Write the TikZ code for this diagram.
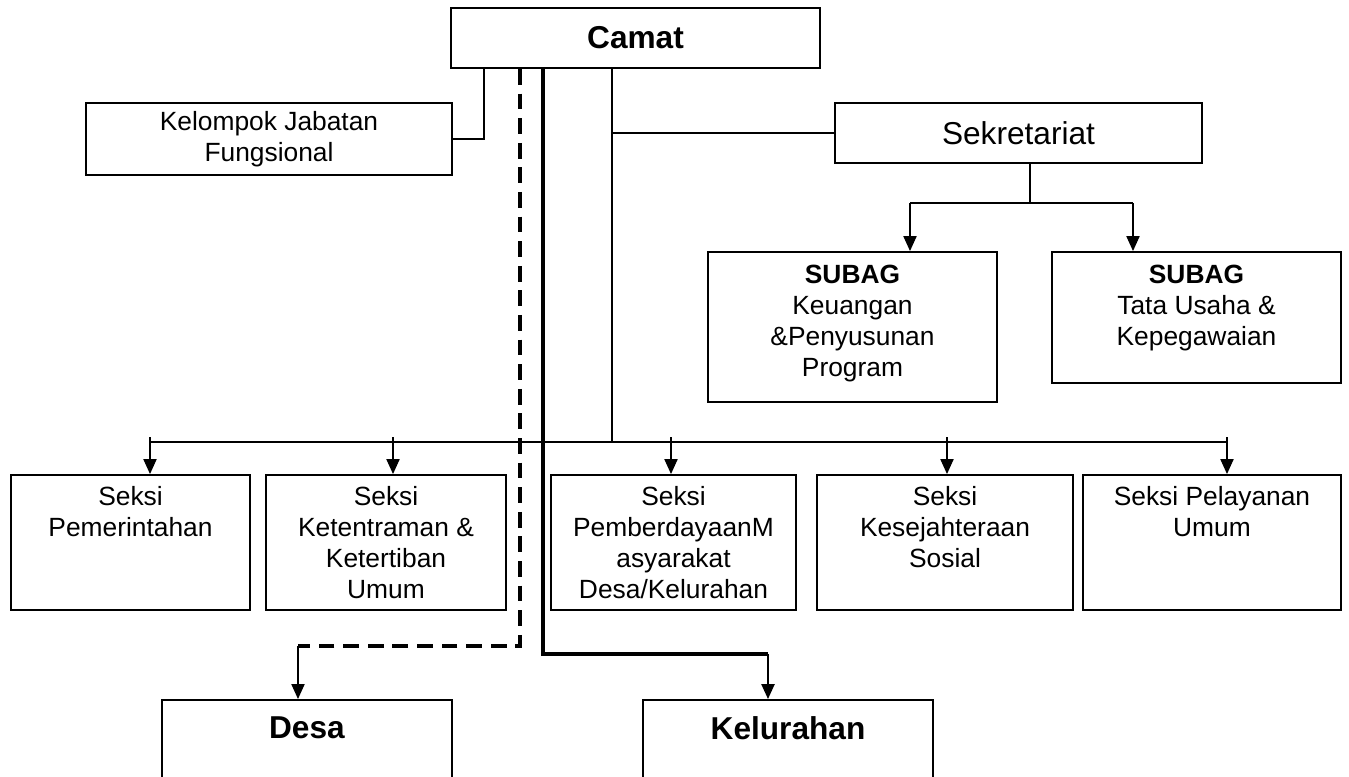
\documentclass[tikz,border=0pt]{standalone}
\usepackage{fontspec}
\setmainfont{Liberation Sans}
\usepackage{tikz}
\usetikzlibrary{arrows.meta, positioning}

\tikzset{
  box/.style={draw, line width=1.1pt, inner sep=0pt},
  txt/.style={align=center, inner sep=0pt, font=\fontsize{15}{17.6}\selectfont},
  big/.style={font=\fontsize{18}{21}\selectfont},
  link/.style={line width=0.75pt},
  down/.style={line width=0.75pt, -{Stealth[inset=0pt, length=8.5pt, width=7.5pt]}},
  dashlink/.style={line width=2pt, dash pattern=on 9pt off 5pt},
  thicklink/.style={line width=2.2pt},
}

\begin{document}
\begin{tikzpicture}
  \useasboundingbox (0,0) rectangle (26.98,-15.52);
  \clip (0,0) rectangle (26.98,-15.52);

  % top
  \node[box, big, minimum width=7.38cm, minimum height=1.2cm] (camat) at (12.71,-0.76) {\textbf{Camat}};
  \node[box, txt, minimum width=7.32cm, minimum height=1.44cm] (kjf) at (5.38,-2.78) {Kelompok Jabatan\\Fungsional};
  \node[box, big, minimum width=7.34cm, minimum height=1.2cm] (sekr) at (20.37,-2.66) {Sekretariat};

  % subag
  \node[box, minimum width=5.78cm, minimum height=3cm] (keu) at (17.05,-6.54) {};
  \node[txt, below=8pt of keu.north] (keut) {\textbf{SUBAG}\\Keuangan\\\&Penyusunan\\Program};
  \node[box, minimum width=5.78cm, minimum height=2.62cm] (tu) at (23.93,-6.35) {};
  \node[txt, below=8pt of tu.north] (tut) {\textbf{SUBAG}\\Tata Usaha \&\\Kepegawaian};

  % seksi
  \node[box, minimum width=4.78cm, minimum height=2.7cm] (pem) at (2.61,-10.85) {};
  \node[txt, below=7pt of pem.north] (pemt) {Seksi\\Pemerintahan};
  \node[box, minimum width=4.8cm, minimum height=2.7cm] (tram) at (7.72,-10.85) {};
  \node[txt, below=7pt of tram.north] (tramt) {Seksi\\Ketentraman \&\\Ketertiban\\Umum};
  \node[box, minimum width=4.9cm, minimum height=2.7cm] (pmd) at (13.47,-10.85) {};
  \node[txt, below=7pt of pmd.north] (pmdt) {Seksi\\PemberdayaanM\\asyarakat\\Desa/Kelurahan};
  \node[box, minimum width=5.12cm, minimum height=2.7cm] (kesos) at (18.9,-10.85) {};
  \node[txt, below=7pt of kesos.north] (kesost) {Seksi\\Kesejahteraan\\Sosial};
  \node[box, minimum width=5.16cm, minimum height=2.7cm] (yan) at (24.24,-10.85) {};
  \node[txt, below=7pt of yan.north] (yant) {Seksi Pelayanan\\Umum};

  % bottom
  \node[box, minimum width=5.8cm, minimum height=3cm, anchor=north] (desa) at (6.14,-13.98) {};
  \node[txt, big, below=10pt of desa.north] (desat) {\textbf{Desa}};
  \node[box, minimum width=5.8cm, minimum height=3cm, anchor=north] (kel) at (15.76,-13.98) {};
  \node[txt, big, below=10pt of kel.north] (kelt) {\textbf{Kelurahan}};

  % junctions
  \coordinate (xk) at (9.68,0);
  \coordinate (xd) at (10.4,0);
  \coordinate (xt) at (10.86,0);
  \coordinate (xs) at (12.24,0);
  \coordinate (busl) at (3.0,-8.84);
  \coordinate (busr) at (24.54,-8.84);
  \coordinate (a1) at (3.0,-8.74);
  \coordinate (a2) at (7.86,-8.74);
  \coordinate (a3) at (13.42,-8.74);
  \coordinate (a4) at (18.94,-8.74);
  \coordinate (a5) at (24.54,-8.74);
  \coordinate (sj) at (20.6,-4.06);
  \coordinate (sl) at (18.2,-4.06);
  \coordinate (sr) at (22.66,-4.06);
  \coordinate (jd) at (5.96,-12.92);
  \coordinate (jt) at (15.36,-13.08);

  \draw[link] (camat.south -| xk) |- (kjf.east);
  \draw[link] (camat.south -| xs) -- (xs |- busl);
  \draw[link] (xs |- sekr.west) -- (sekr.west);
  \draw[link] (busl) -- (busr);
  \draw[down] (a1) -- (a1 |- pem.north);
  \draw[down] (a2) -- (a2 |- tram.north);
  \draw[down] (a3) -- (a3 |- pmd.north);
  \draw[down] (a4) -- (a4 |- kesos.north);
  \draw[down] (a5) -- (a5 |- yan.north);

  \draw[link] (sekr.south -| sj) -- (sj);
  \draw[link] (sl) -- (sr);
  \draw[down] (sl) -- (sl |- keu.north);
  \draw[down] (sr) -- (sr |- tu.north);

  \draw[dashlink] (camat.south -| xd) |- (jd);
  \draw[down] (jd) -- (jd |- desa.north);
  \draw[thicklink] (camat.south -| xt) |- (jt);
  \draw[down, line width=1pt] (jt) -- (jt |- kel.north);
\end{tikzpicture}
\end{document}
